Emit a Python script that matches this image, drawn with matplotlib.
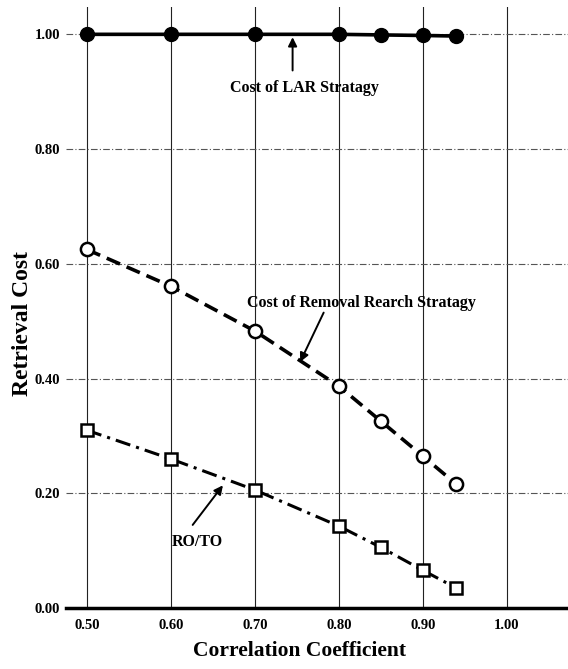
import numpy as np
import matplotlib
matplotlib.use('Agg')
import matplotlib.pyplot as plt

plt.rcParams['font.family'] = ['Liberation Serif', 'DejaVu Serif']

# Data
corr = [0.50, 0.60, 0.70, 0.80, 0.85, 0.90, 0.94]
lar_cost = [1.000, 1.000, 1.000, 1.000, 0.999, 0.998, 0.997]
removal_cost = [0.625, 0.561, 0.483, 0.387, 0.326, 0.265, 0.216]
ro_to = [0.310, 0.260, 0.206, 0.143, 0.106, 0.066, 0.035]

x_ticks = [0.50, 0.60, 0.70, 0.80, 0.90, 1.00]
y_ticks = [0.00, 0.20, 0.40, 0.60, 0.80, 1.00]

fig = plt.figure(figsize=(5.68, 6.69), dpi=100)
ax = fig.add_axes([0.116, 0.091, 0.884, 0.898])

# Grid: solid verticals, dash-dot horizontals
for xv in x_ticks:
    ax.axvline(xv, color='#222222', lw=0.8, zorder=1)
for yv in y_ticks[1:]:
    ax.axhline(yv, color='#555555', lw=0.8, ls=(0, (6, 2, 1, 2)), zorder=1)

ax.plot(corr, lar_cost, color='black', lw=2.6, marker='o', ms=10,
        mfc='black', mec='black', zorder=3)
ax.plot(corr, removal_cost, color='black', lw=2.6, ls=(0, (4, 2)),
        marker='o', ms=9.5, mfc='white', mec='black', mew=1.8, zorder=3)
ax.plot(corr, ro_to, color='black', lw=2.2, ls=(0, (5, 2, 1, 2)),
        marker='s', ms=8.5, mfc='white', mec='black', mew=1.8, zorder=3)

# Annotations: arrows and text drawn separately
arrow = dict(arrowstyle='-|>', color='black', lw=1.4, mutation_scale=13,
             shrinkA=0, shrinkB=0)
ax.annotate('', xy=(0.745, 0.995), xytext=(0.745, 0.937), arrowprops=arrow)
ax.text(0.759, 0.906, 'Cost of LAR Stratagy', ha='center', va='center',
        fontsize=11.5, fontweight='bold')
ax.annotate('', xy=(0.754, 0.429), xytext=(0.782, 0.515), arrowprops=arrow)
ax.text(0.827, 0.532, 'Cost of Removal Rearch Stratagy', ha='center',
        va='center', fontsize=11.5, fontweight='bold')
ax.annotate('', xy=(0.662, 0.214), xytext=(0.626, 0.145), arrowprops=arrow)
ax.text(0.631, 0.115, 'RO/TO', ha='center', va='center', fontsize=11.5,
        fontweight='bold')

ax.set_xlim(0.475, 1.073)
ax.set_ylim(0.0, 1.047)
ax.set_xticks(x_ticks)
ax.set_xticklabels(['%.2f' % v for v in x_ticks])
ax.set_yticks(y_ticks)
ax.set_yticklabels(['%.2f' % v for v in y_ticks])
ax.tick_params(length=0, labelsize=10.5)
ax.tick_params(axis='x', pad=8)
ax.tick_params(axis='y', pad=4)
for lab in ax.get_xticklabels() + ax.get_yticklabels():
    lab.set_fontweight('bold')

for s in ['top', 'right', 'left']:
    ax.spines[s].set_visible(False)
ax.spines['bottom'].set_linewidth(2.5)

ax.set_xlabel('Correlation Coefficient', fontsize=15.5, fontweight='bold')
ax.set_ylabel('Retrieval Cost', fontsize=17, fontweight='bold')
ax_w = 0.884 * 568
ax_h = 0.898 * 669
ax.xaxis.set_label_coords((300 - 66) / ax_w, -(641 - 608) / ax_h)
ax.yaxis.set_label_coords((33 - 66) / ax_w, (608 - 323) / ax_h)

fig.savefig('out.png', dpi=100)
